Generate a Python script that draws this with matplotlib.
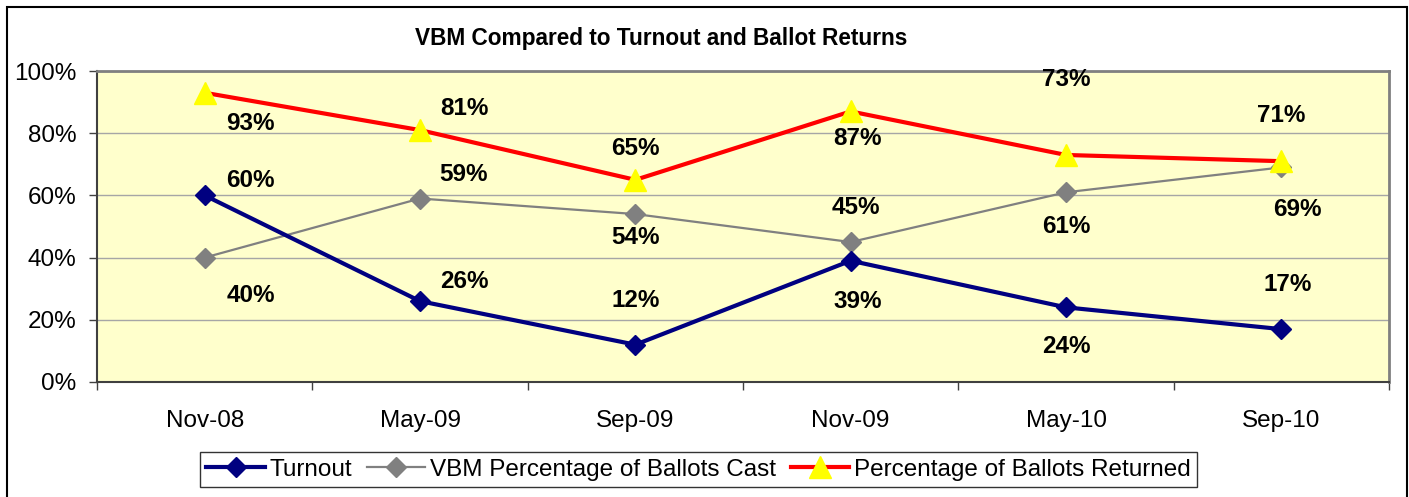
import matplotlib
matplotlib.use("Agg")
import matplotlib.pyplot as plt
from matplotlib.patches import Rectangle

plt.rcParams['font.family'] = ['Liberation Sans', 'DejaVu Sans']

# ---- data ----
categories = ["Nov-08", "May-09", "Sep-09", "Nov-09", "May-10", "Sep-10"]
turnout = [60, 26, 12, 39, 24, 17]
vbm_cast = [40, 59, 54, 45, 61, 69]
ballots_returned = [93, 81, 65, 87, 73, 71]
series_names = ["Turnout", "VBM Percentage of Ballots Cast", "Percentage of Ballots Returned"]
title = "VBM Compared to Turnout and Ballot Returns"
yticks = [0, 20, 40, 60, 80, 100]

# label offsets (pixels) for data labels
turnout_off = [(46, 15), (44, 20), (0, 44), (7, -41), (0, -39), (6, 45)]
vbm_off = [(46, -38), (44, 24), (0, -23), (5, 35), (0, -34), (16, -42)]
ret_off = [(46, -31), (44, 22), (0, 31), (7, -27), (0, 75), (0, 46)]

W, H = 1409, 497
FS = 17.5
fig = plt.figure(figsize=(W / 100, H / 100), dpi=100)
fig.patch.set_facecolor("white")

# outer border
fig.patches.append(Rectangle((7 / W, -0.02), 1400 / W, 1 - 7 / H + 0.02,
                             transform=fig.transFigure, fill=False,
                             edgecolor="#000000", linewidth=1.5))

L, R, T, B = 97, 1389, 71, 382
ax = fig.add_axes([L / W, 1 - B / H, (R - L) / W, (B - T) / H])
ax.set_facecolor("#FFFFCC")

x = list(range(len(categories)))
l1, = ax.plot(x, turnout, color="#000080", lw=3, marker="D", ms=10,
              mfc="#000080", mec="#000080", zorder=4, label=series_names[0])
l2, = ax.plot(x, vbm_cast, color="#808080", lw=1.6, marker="D", ms=10,
              mfc="#808080", mec="#808080", zorder=3, label=series_names[1])
l3, = ax.plot(x, ballots_returned, color="#FF0000", lw=3, marker="^", ms=16,
              mfc="#FFFF00", mec="#FFFF00", zorder=5, label=series_names[2])

for vals, offs in ((turnout, turnout_off), (vbm_cast, vbm_off), (ballots_returned, ret_off)):
    for i, (v, o) in enumerate(zip(vals, offs)):
        ax.annotate(f"{v}%", (i, v), xytext=o, textcoords="offset pixels",
                    ha="center", va="center", fontsize=FS, fontweight="bold",
                    color="black", zorder=6)

ax.set_xlim(-0.5, len(categories) - 0.5)
ax.set_ylim(0, 100)
ax.set_yticks(yticks)
ax.set_yticklabels([f"{t}%" for t in yticks])
ax.yaxis.grid(True, color="#A6A6A6", lw=1)
ax.set_axisbelow(True)

ax.set_xticks([i - 0.5 for i in range(len(categories) + 1)])
ax.set_xticklabels([])
ax.set_xticks(x, minor=True)
ax.set_xticklabels(categories, minor=True)
ax.tick_params(axis="x", which="major", direction="out", length=6, width=1, color="#404040")
ax.tick_params(axis="x", which="minor", length=0, pad=20, labelsize=FS)
ax.tick_params(axis="y", direction="out", length=6, width=1, color="#404040",
               pad=9, labelsize=FS)

for s in ("top", "right"):
    ax.spines[s].set_color("#808080")
    ax.spines[s].set_linewidth(2)
for s in ("left", "bottom"):
    ax.spines[s].set_color("#404040")
    ax.spines[s].set_linewidth(1.5)

fig.text(661 / W, 1 - 38 / H, title, ha="center", va="center",
         fontsize=16.3, fontweight="bold")

leg = fig.legend(handles=[l1, l2, l3], loc="center",
                 bbox_to_anchor=(698.5 / W, 1 - 469.5 / H), ncol=3,
                 fontsize=FS, frameon=True, fancybox=False, edgecolor="#000000",
                 handlelength=2.4, handletextpad=0.2, columnspacing=0.6,
                 borderpad=0.25, borderaxespad=0)
leg.get_frame().set_linewidth(1)

fig.savefig("out.png", dpi=100)
